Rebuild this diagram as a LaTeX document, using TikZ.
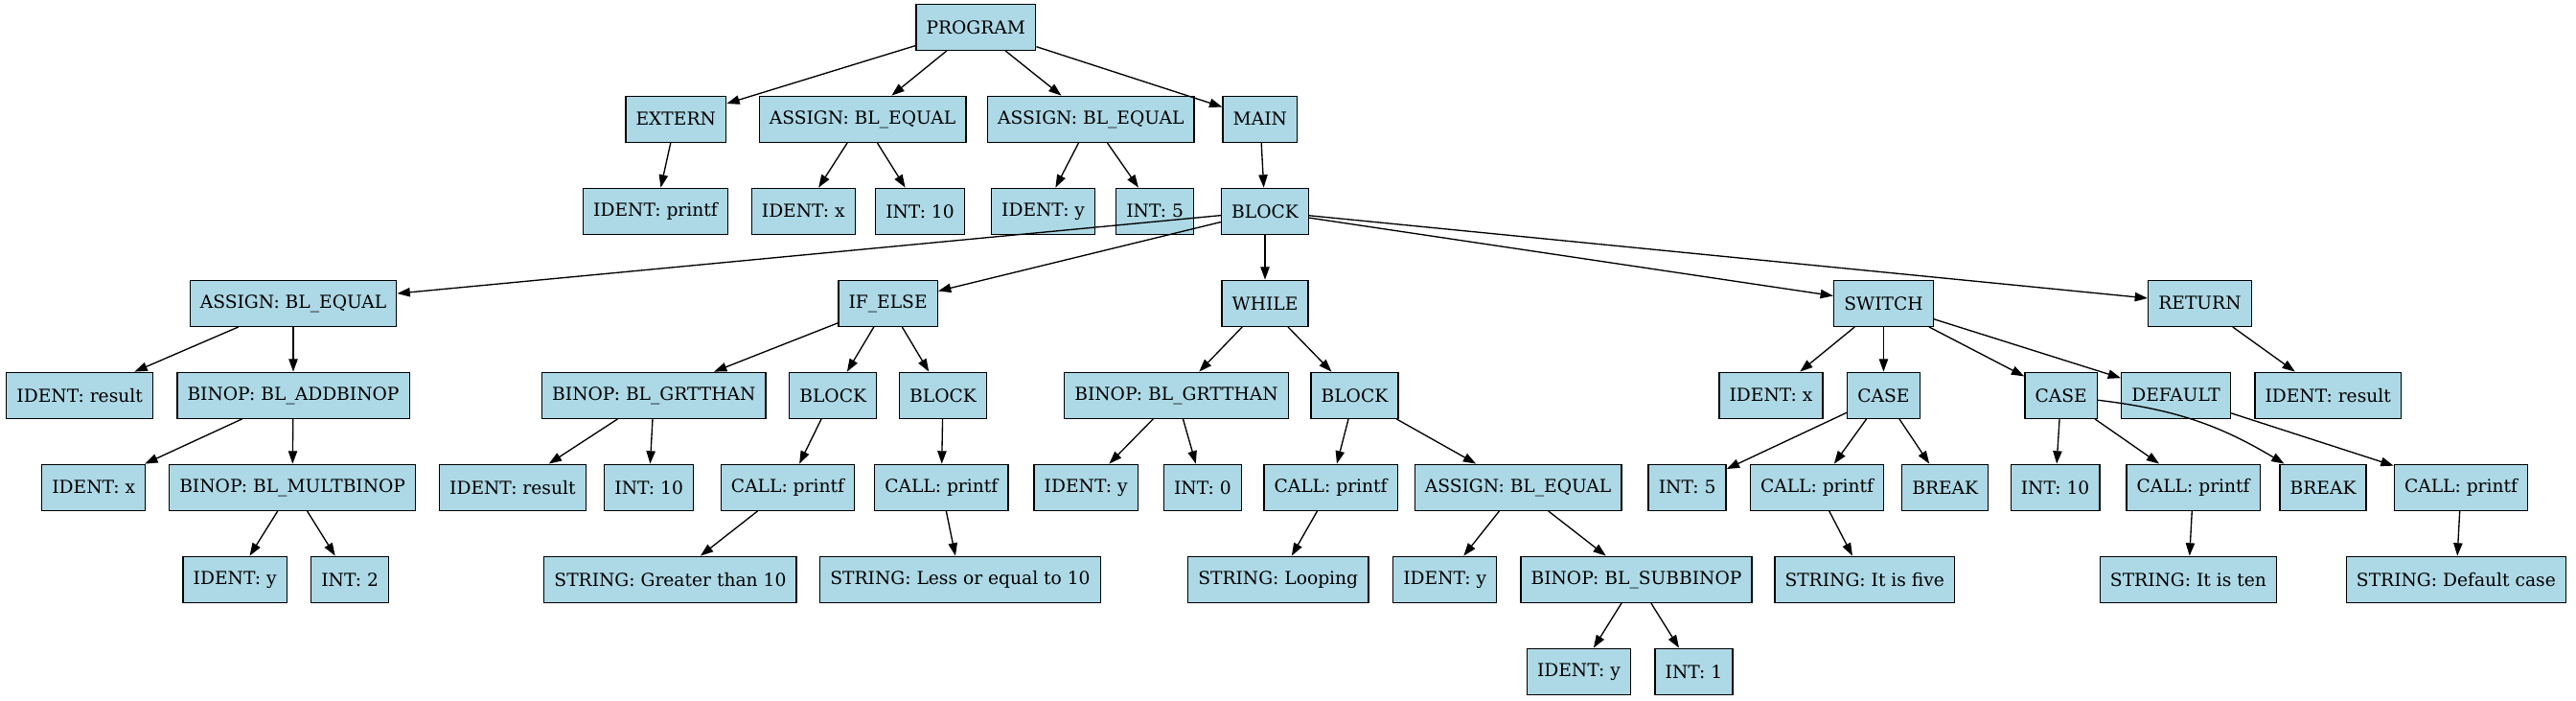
\documentclass[tikz,border=0pt]{standalone}
\usepackage{fontspec}
\setmainfont{DejaVu Serif}
\usepackage{tikz}
\usetikzlibrary{arrows.meta}
\definecolor{astblue}{HTML}{ADD8E6}
\tikzset{
  astbox/.style={
    draw=black,
    fill=astblue,
    line width=1pt,
    rectangle,
    minimum height=36pt,
    minimum width=54pt,
    inner xsep=8pt,
    font=\fontsize{14}{16}\selectfont
  },
  astlink/.style={
    line width=1pt,
    -{Triangle[length=10pt,width=7pt]}
  }
}

\begin{document}
\begin{tikzpicture}[x=1.2857pt,y=-1.2857pt]
\useasboundingbox (0,0) rectangle (1568,426.4);

\node[astbox] (program) at (594,16.5) {PROGRAM};

\node[astbox] (extern) at (411.4,72.5) {EXTERN};
\node[astbox] (assigntop) at (525,72.5) {ASSIGN: BL\_EQUAL};
\node[astbox] (assignmid) at (664,72.5) {ASSIGN: BL\_EQUAL};
\node[astbox] (main) at (767,72.5) {MAIN};

\node[astbox] (identprintf) at (399,128.5) {IDENT: printf};
\node[astbox] (identxtop) at (489,128.5) {IDENT: x};
\node[astbox] (intten) at (560,128.5) {INT: 10};
\node[astbox] (identytop) at (635,128.5) {IDENT: y};
\node[astbox] (intfive) at (703,128.5) {INT: 5};
\node[astbox] (mainblock) at (770,128.5) {BLOCK};

\node[astbox] (assignres) at (178.5,184.5) {ASSIGN: BL\_EQUAL};
\node[astbox] (ifelse) at (540.5,184.5) {IF\_ELSE};
\node[astbox] (whileloop) at (770,184.5) {WHILE};
\node[astbox] (switchnode) at (1146.5,184.5) {SWITCH};
\node[astbox] (returnnode) at (1339,184.5) {RETURN};

\node[astbox] (identres) at (48.5,240.5) {IDENT: result};
\node[astbox] (addbinop) at (178.5,240.5) {BINOP: BL\_ADDBINOP};
\node[astbox] (grtthan) at (398,240.5) {BINOP: BL\_GRTTHAN};
\node[astbox] (thenblock) at (507,240.5) {BLOCK};
\node[astbox] (elseblock) at (574,240.5) {BLOCK};
\node[astbox] (grtwhile) at (716,240.5) {BINOP: BL\_GRTTHAN};
\node[astbox] (whileblock) at (824.5,240.5) {BLOCK};
\node[astbox] (identxsw) at (1078,240.5) {IDENT: x};
\node[astbox] (casefive) at (1146.5,240.5) {CASE};
\node[astbox] (caseten) at (1254.5,240.5) {CASE};
\node[astbox] (defaultnode) at (1324.5,240.5) {DEFAULT};
\node[astbox] (identresret) at (1417,240.5) {IDENT: result};

\node[astbox] (identxadd) at (57,296.5) {IDENT: x};
\node[astbox] (multbinop) at (178,296.5) {BINOP: BL\_MULTBINOP};
\node[astbox] (identresgrt) at (312,296.5) {IDENT: result};
\node[astbox] (inttengrt) at (395,296.5) {INT: 10};
\node[astbox] (callthen) at (479.5,296.5) {CALL: printf};
\node[astbox] (callelse) at (573,296.5) {CALL: printf};
\node[astbox] (identywhile) at (661,296.5) {IDENT: y};
\node[astbox] (intzero) at (732,296.5) {INT: 0};
\node[astbox] (callloop) at (810,296.5) {CALL: printf};
\node[astbox] (assignsub) at (924,296.5) {ASSIGN: BL\_EQUAL};
\node[astbox] (intfivecase) at (1027,296.5) {INT: 5};
\node[astbox] (callfive) at (1106,296.5) {CALL: printf};
\node[astbox] (breakfive) at (1184,296.5) {BREAK};
\node[astbox] (inttencase) at (1251,296.5) {INT: 10};
\node[astbox] (callten) at (1335,296.5) {CALL: printf};
\node[astbox] (breakten) at (1414,296.5) {BREAK};
\node[astbox] (calldefault) at (1498,296.5) {CALL: printf};

\node[astbox] (identymult) at (143,352.5) {IDENT: y};
\node[astbox] (inttwo) at (213,352.5) {INT: 2};
\node[astbox] (strgreater) at (408,352.5) {STRING: Greater than 10};
\node[astbox] (strless) at (584.5,352.5) {STRING: Less or equal to 10};
\node[astbox] (strloop) at (778,352.5) {STRING: Looping};
\node[astbox] (identysub) at (879.5,352.5) {IDENT: y};
\node[astbox] (subbinop) at (996,352.5) {BINOP: BL\_SUBBINOP};
\node[astbox] (strfive) at (1135,352.5) {STRING: It is five};
\node[astbox] (strten) at (1332,352.5) {STRING: It is ten};
\node[astbox] (strdefault) at (1495,352.5) {STRING: Default case};

\node[astbox] (identyone) at (961,408.5) {IDENT: y};
\node[astbox] (intone) at (1031,408.5) {INT: 1};

\draw[astlink] (program) -- (extern);
\draw[astlink] (program) -- (assigntop);
\draw[astlink] (program) -- (assignmid);
\draw[astlink] (program) -- (main);
\draw[astlink] (extern) -- (identprintf);
\draw[astlink] (assigntop) -- (identxtop);
\draw[astlink] (assigntop) -- (intten);
\draw[astlink] (assignmid) -- (identytop);
\draw[astlink] (assignmid) -- (intfive);
\draw[astlink] (main) -- (mainblock);
\draw[astlink] (mainblock) -- (assignres);
\draw[astlink] (mainblock) -- (ifelse);
\draw[astlink] (mainblock) -- (whileloop);
\draw[astlink] (mainblock) -- (switchnode);
\draw[astlink] (mainblock) -- (returnnode);
\draw[astlink] (assignres) -- (identres);
\draw[astlink] (assignres) -- (addbinop);
\draw[astlink] (addbinop) -- (identxadd);
\draw[astlink] (addbinop) -- (multbinop);
\draw[astlink] (multbinop) -- (identymult);
\draw[astlink] (multbinop) -- (inttwo);
\draw[astlink] (ifelse) -- (grtthan);
\draw[astlink] (ifelse) -- (thenblock);
\draw[astlink] (ifelse) -- (elseblock);
\draw[astlink] (grtthan) -- (identresgrt);
\draw[astlink] (grtthan) -- (inttengrt);
\draw[astlink] (thenblock) -- (callthen);
\draw[astlink] (callthen) -- (strgreater);
\draw[astlink] (elseblock) -- (callelse);
\draw[astlink] (callelse) -- (strless);
\draw[astlink] (whileloop) -- (grtwhile);
\draw[astlink] (whileloop) -- (whileblock);
\draw[astlink] (grtwhile) -- (identywhile);
\draw[astlink] (grtwhile) -- (intzero);
\draw[astlink] (whileblock) -- (callloop);
\draw[astlink] (whileblock) -- (assignsub);
\draw[astlink] (callloop) -- (strloop);
\draw[astlink] (assignsub) -- (identysub);
\draw[astlink] (assignsub) -- (subbinop);
\draw[astlink] (subbinop) -- (identyone);
\draw[astlink] (subbinop) -- (intone);
\draw[astlink] (switchnode) -- (identxsw);
\draw[astlink] (switchnode) -- (casefive);
\draw[astlink] (switchnode) -- (caseten);
\draw[astlink] (switchnode) -- (defaultnode);
\draw[astlink] (casefive) -- (intfivecase);
\draw[astlink] (casefive) -- (callfive);
\draw[astlink] (casefive) -- (breakfive);
\draw[astlink] (callfive) -- (strfive);
\draw[astlink] (caseten) -- (inttencase);
\draw[astlink] (caseten) -- (callten);
\draw[astlink] (caseten) to[bend left=12] (breakten);
\draw[astlink] (callten) -- (strten);
\draw[astlink] (defaultnode) -- (calldefault);
\draw[astlink] (calldefault) -- (strdefault);
\draw[astlink] (returnnode) -- (identresret);
\end{tikzpicture}
\end{document}
